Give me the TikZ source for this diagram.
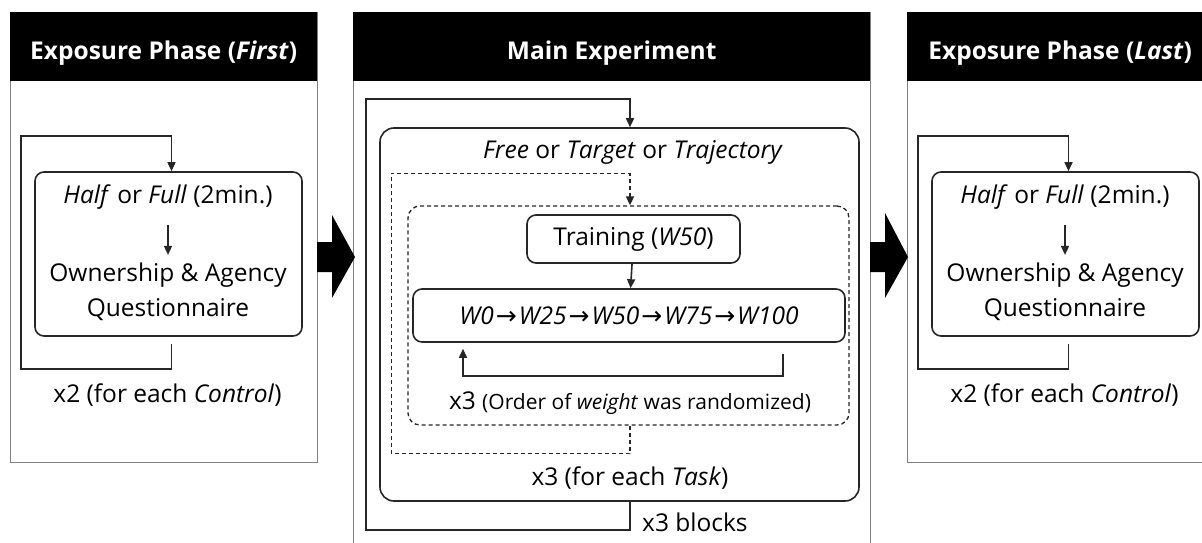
\documentclass[tikz,border=0pt]{standalone}
\usepackage{fontspec}
\setmainfont{Open Sans}
\newfontfamily\arrowfont{DejaVu Sans}
\newcommand\seqarrow{\kern2pt{\arrowfont\fontsize{25}{25}\selectfont\upshape →}\kern2pt}
\usetikzlibrary{positioning,arrows.meta,calc}

\begin{document}
\begin{tikzpicture}[x=1pt, y=-1pt,
  panel/.style={draw=black!50, line width=0.9pt},
  header/.style={fill=black, text=white, font=\fontsize{24.5}{28}\selectfont\bfseries, minimum height=69pt, text height=25pt, text depth=0pt, anchor=north west, inner sep=0pt},
  stepbox/.style={draw=black!85, line width=1.6pt, rounded corners=9pt},
  dashbox/.style={draw=black!85, line width=1.3pt, dash pattern=on 4pt off 3pt, rounded corners=12pt},
  txt/.style={font=\fontsize{24.5}{35}\selectfont, align=center, inner sep=0pt},
  loopline/.style={draw=black!85, line width=1.6pt, -{Triangle[length=9pt,width=8pt]}},
  bigarrow/.style={fill=black}]
\useasboundingbox (0,0) rectangle (1202,543);
\clip (0,0) rectangle (1202,543);

\draw[panel] (10,12) rectangle (317,462);
\draw[panel] (353,12) rectangle (870,560);
\draw[panel] (907,12) rectangle (1215,462);

\node[header, minimum width=307pt] (hdFirst) at (10,12) {Exposure Phase (\textit{First})};
\node[header, minimum width=517pt] (hdMain) at (353,12) {Main Experiment};
\node[header, minimum width=306pt] (hdLast) at (907,12) {Exposure Phase (\textit{Last})};

\fill[bigarrow] (317,242) -- (332,242) -- (332,215) -- (355,257) -- (332,298) -- (332,272) -- (317,272) -- cycle;
\fill[bigarrow] (870,242) -- (885,242) -- (885,213) -- (908,257) -- (885,298) -- (885,272) -- (870,272) -- cycle;

\node[stepbox, minimum width=267pt, minimum height=164pt] (expL) at (168.5,254) {};
\node[txt] (condL) at (168,197) {\textit{Half} or \textit{Full} (2min.)};
\node[txt] (questL) at (168,292) {Ownership \& Agency\\Questionnaire};
\draw[loopline, shorten <=15pt, shorten >=8pt] (condL) -- (questL);
\draw[loopline] ([xshift=3pt,yshift=-7pt]expL.south) -- ++(0,25) -| ([xshift=-13pt,yshift=35pt]expL.north west) -| ([xshift=3pt]expL.north);
\node[txt] (repL) at (167.5,395) {x2 (for each \textit{Control})};

\node[stepbox, rounded corners=14pt, minimum width=479pt, minimum height=373pt] (taskbox) at (619.5,314.5) {};
\node[txt] (task) at (633,152) {\textit{Free} or \textit{Target} or \textit{Trajectory}};
\node[dashbox, minimum width=441pt, minimum height=219pt] (weightbox) at (628.5,315.5) {};
\node[stepbox, txt, minimum width=213pt, minimum height=48pt] (train) at (633.5,239) {Training (\textit{W50})};
\node[stepbox, txt, minimum width=432pt, minimum height=53pt] (seq) at (629,315.5) {\itshape W0\seqarrow W25\seqarrow W50\seqarrow W75\seqarrow W100};
\draw[loopline] (train) -- (seq);
\draw[loopline] ([xshift=154pt,yshift=-11pt]seq.south) -- ++(0,22) -| ([xshift=-166pt,yshift=-6pt]seq.south);
\node[txt] (repW) at (630,403) {x3 {\fontsize{21}{24}\selectfont (Order of \textit{weight} was randomized)}};
\node[txt] (repT) at (630,478) {x3 (for each \textit{Task})};
\node[txt, anchor=west] (repB) at (642,522) {x3 blocks};
\draw[loopline, dash pattern=on 4pt off 3pt] (weightbox.south -| repT) -- ++(0,28) -| ([xshift=-16pt,yshift=32pt]weightbox.north west) -| (weightbox.north -| repT);
\draw[loopline] (taskbox.south -| repT) -- ++(0,28) -| ([xshift=-13pt,yshift=28pt]taskbox.north west) -| (taskbox.north -| repT);

\node[stepbox, minimum width=267pt, minimum height=164pt] (expR) at (1065.5,254) {};
\node[txt] (condR) at (1065,197) {\textit{Half} or \textit{Full} (2min.)};
\node[txt] (questR) at (1065,292) {Ownership \& Agency\\Questionnaire};
\draw[loopline, shorten <=15pt, shorten >=8pt] (condR) -- (questR);
\draw[loopline] ([xshift=3pt,yshift=-7pt]expR.south) -- ++(0,25) -| ([xshift=-13pt,yshift=35pt]expR.north west) -| ([xshift=3pt]expR.north);
\node[txt] (repR) at (1064.5,395) {x2 (for each \textit{Control})};
\end{tikzpicture}
\end{document}
